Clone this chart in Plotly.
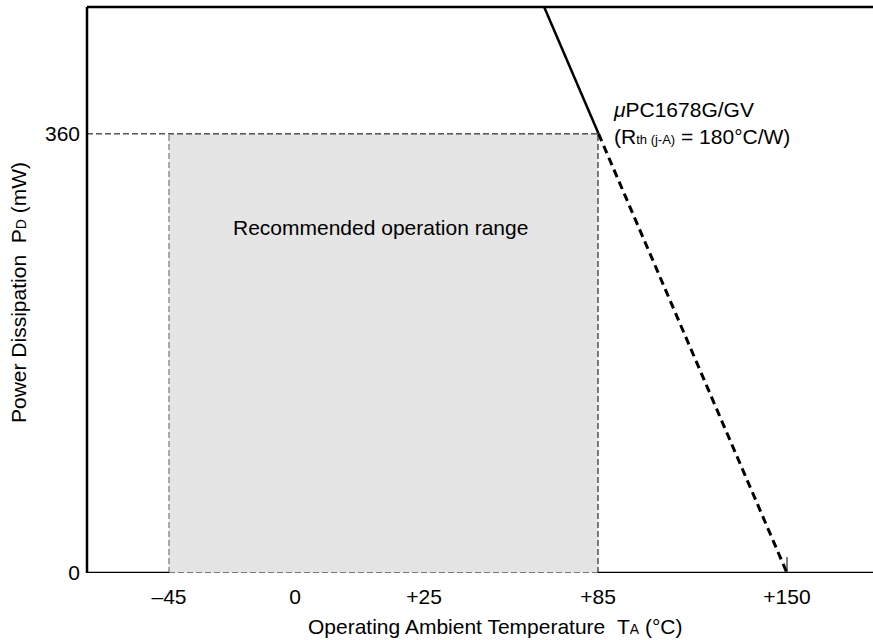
import numpy as np
import plotly.graph_objects as go

# ---- data -------------------------------------------------------------
temp_ticks = [-45, 0, 25, 85, 150]                 # °C
temp_labels = ["–45", "0", "+25", "+85", "+150"]
# schematic (non-uniform) placement of the temperature ticks on the axis
temp_axis_pos = [82, 208, 337, 511, 700]

power_ticks = [0, 360]                             # mW
power_labels = ["0", "360"]

range_temp = [-45, 85]                             # recommended operation range
range_power = [0, 360]

t_junction_max = 150                               # °C (P = 0)
p_max = 360                                        # mW
r_th = 180                                         # °C/W
p_axis_top = 464                                   # mW (top of plot)

FONT = "Liberation Sans, Arial, sans-serif"


def xpos(t):
    return float(np.interp(t, temp_ticks, temp_axis_pos))


def xpos_line(t):
    # derating line is straight on the drawing: extend the 85..150 segment
    x85, x150 = xpos(85), xpos(150)
    return x85 + (t - 85) * (x150 - x85) / (150 - 85)


t_top = t_junction_max - p_axis_top * r_th / 1000.0
t_knee = t_junction_max - p_max * r_th / 1000.0

fig = go.Figure()

# recommended operation range (grey area)
fig.add_trace(go.Scatter(
    x=[xpos(range_temp[0]), xpos(range_temp[1]), xpos(range_temp[1]), xpos(range_temp[0])],
    y=[range_power[0], range_power[0], range_power[1], range_power[1]],
    fill="toself", fillcolor="#e5e5e5", mode="none", hoverinfo="skip", showlegend=False))

# derating curve: solid above P max, dashed below
fig.add_trace(go.Scatter(
    x=[xpos_line(t_top), xpos_line(t_knee)], y=[p_axis_top, p_max],
    mode="lines", line=dict(color="black", width=2.5), showlegend=False))
fig.add_trace(go.Scatter(
    x=[xpos_line(t_knee), xpos_line(t_junction_max)], y=[p_max, 0],
    mode="lines", line=dict(color="black", width=3, dash="8px,5px"), showlegend=False))

x_left, x_right = 0, 786
shapes = [
    # dashed outline of the range
    dict(type="line", xref="x", yref="y", x0=x_left, x1=xpos(range_temp[1]), y0=p_max, y1=p_max,
         line=dict(color="black", width=1, dash="6px,3px")),
    dict(type="line", xref="x", yref="y", x0=xpos(range_temp[1]), x1=xpos(range_temp[1]), y0=0, y1=p_max,
         line=dict(color="black", width=1, dash="6px,3px")),
    dict(type="line", xref="x", yref="y", x0=xpos(range_temp[0]), x1=xpos(range_temp[0]), y0=0, y1=p_max,
         line=dict(color="#777777", width=1.2, dash="6px,3px")),
    dict(type="line", xref="x", yref="y", x0=xpos(range_temp[0]), x1=xpos(range_temp[1]), y0=0, y1=0,
         line=dict(color="#555555", width=1.5, dash="6px,3px")),
    # frame
    dict(type="line", xref="paper", yref="paper", x0=0, x1=0, y0=0, y1=1,
         line=dict(color="black", width=2.5)),
    dict(type="line", xref="paper", yref="paper", x0=0, x1=1, y0=1, y1=1,
         line=dict(color="black", width=2.5)),
    dict(type="line", xref="x", yref="y", x0=x_left, x1=xpos(range_temp[0]), y0=0, y1=0,
         line=dict(color="black", width=2.5)),
    dict(type="line", xref="x", yref="y", x0=xpos(range_temp[1]), x1=x_right, y0=0, y1=0,
         line=dict(color="black", width=2.5)),
    # small tick at +150
    dict(type="line", xref="x", yref="y", ysizemode="pixel", yanchor=0,
         x0=xpos(150), x1=xpos(150), y0=0, y1=16, line=dict(color="black", width=1)),
]

annotations = [
    dict(text="Recommended operation range", x=293, y=283, xref="x", yref="y",
         showarrow=False, font=dict(size=21, color="black", family=FONT)),
    dict(text="<i>μ</i>PC1678G/GV<br>(R<span style='font-size:13px'>th (j-A)</span> = 180°C/W)",
         x=xpos_line(t_knee) + 12, y=369, xref="x", yref="y", xanchor="left", yanchor="middle",
         align="left", showarrow=False, font=dict(size=21, color="black", family=FONT)),
    dict(text="Operating Ambient Temperature\u00a0\u00a0T<span style='font-size:14px'>A</span> (°C)",
         x=(495 - 87) / 786, y=(573 - 626) / 566, xref="paper", yref="paper",
         xanchor="center", yanchor="middle", showarrow=False,
         font=dict(size=21, color="black", family=FONT)),
    dict(text="Power Dissipation\u00a0\u00a0P<span style='font-size:14px'>D</span> (mW)",
         x=(18 - 87) / 786, y=(573 - 293) / 566, xref="paper", yref="paper",
         xanchor="center", yanchor="middle", textangle=-90, showarrow=False,
         font=dict(size=21, color="black", family=FONT)),
]

fig.update_layout(
    width=873, height=640,
    margin=dict(l=87, r=0, t=7, b=67),
    paper_bgcolor="white", plot_bgcolor="white",
    font=dict(family=FONT, size=21, color="black"),
    shapes=shapes, annotations=annotations, showlegend=False,
    xaxis=dict(range=[x_left, x_right], tickvals=[xpos(t) for t in temp_ticks], ticktext=temp_labels,
               showgrid=False, zeroline=False, showline=False, ticks="",
               ticklabelstandoff=9, automargin=False,
               tickfont=dict(size=21), fixedrange=True),
    yaxis=dict(range=[0, p_axis_top], tickvals=power_ticks, ticktext=power_labels,
               showgrid=False, zeroline=False, showline=False, ticks="",
               ticklabelstandoff=6, automargin=False,
               tickfont=dict(size=21), fixedrange=True),
)

fig.write_html("out.html", config={"displayModeBar": False, "staticPlot": True})

# remove the browser's default page margin so the figure sits at (0, 0)
with open("out.html", encoding="utf-8") as f:
    html = f.read()
html = html.replace("<body>", "<body style=\"margin:0;padding:0;overflow:hidden\">", 1)
with open("out.html", "w", encoding="utf-8") as f:
    f.write(html)
